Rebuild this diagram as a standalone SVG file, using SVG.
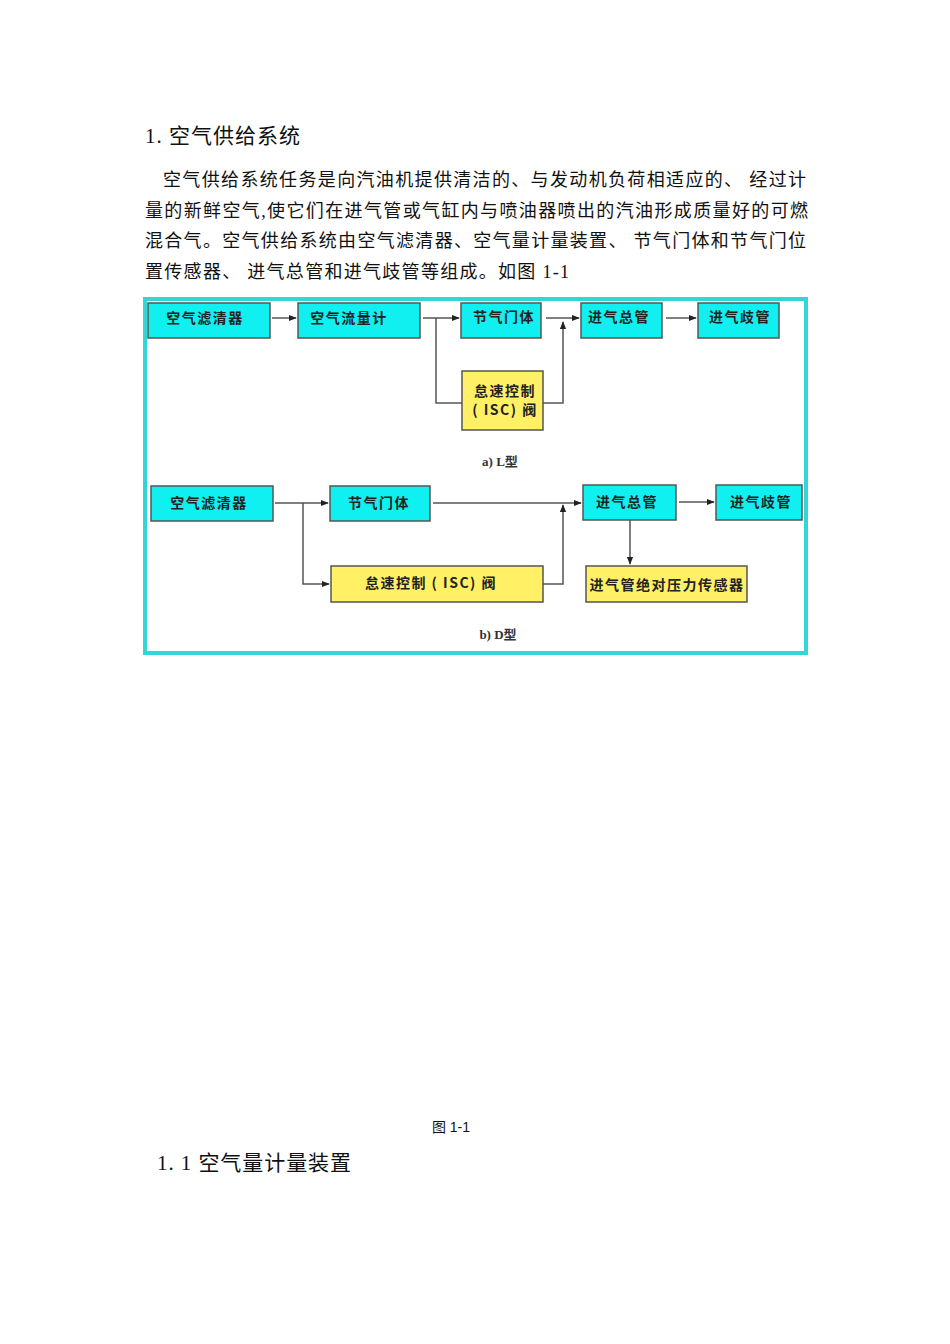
<svg xmlns="http://www.w3.org/2000/svg" width="950" height="1344" viewBox="0 0 950 1344">
<defs>
<style>
.doc{font-family:"Liberation Serif","Noto Sans CJK SC",serif;fill:#111}
.h{font-size:21px}
.p{font-size:18px}
.box{stroke:#555;stroke-width:1.5}
.c{fill:#11F0F0}
.y{fill:#FFF066}
.t{font-family:"Noto Sans CJK SC","Liberation Serif",serif;font-size:14px;font-weight:bold;fill:#222;text-anchor:middle;letter-spacing:1.5px}
.lab{font-family:"Liberation Serif","Noto Sans CJK SC",serif;font-size:13px;font-weight:bold;fill:#333;text-anchor:middle}
.ln{fill:none;stroke:#555;stroke-width:1.5}
</style>
<marker id="ar" viewBox="0 0 10 10" refX="9" refY="5" markerWidth="8" markerHeight="8" markerUnits="userSpaceOnUse" orient="auto">
<path d="M0,1 L10,5 L0,9 z" fill="#222"/>
</marker>
</defs>
<rect x="0" y="0" width="950" height="1344" fill="#fff"/>
<text class="doc h" x="145" y="143" textLength="155" lengthAdjust="spacing">1. 空气供给系统</text>
<text class="doc p" x="163" y="186" textLength="643" lengthAdjust="spacing">空气供给系统任务是向汽油机提供清洁的、与发动机负荷相适应的、 经过计</text>
<text class="doc p" x="145" y="217" textLength="663" lengthAdjust="spacing">量的新鲜空气,使它们在进气管或气缸内与喷油器喷出的汽油形成质量好的可燃</text>
<text class="doc p" x="145" y="247" textLength="661" lengthAdjust="spacing">混合气。空气供给系统由空气滤清器、空气量计量装置、 节气门体和节气门位</text>
<text class="doc p" x="145" y="278" textLength="424" lengthAdjust="spacing">置传感器、 进气总管和进气歧管等组成。如图 1-1</text>
<g id="frame">
<rect x="145" y="299" width="661" height="354" fill="#fff" stroke="#33D6D6" stroke-width="4"/>
</g>
<g id="connectors">
<line class="ln" x1="272" y1="318" x2="296" y2="318" marker-end="url(#ar)"/>
<line class="ln" x1="423" y1="318" x2="459" y2="318" marker-end="url(#ar)"/>
<polyline class="ln" points="436,318 436,403 462,403"/>
<polyline class="ln" points="543,403 563,403 563,322" marker-end="url(#ar)"/>
<line class="ln" x1="546" y1="318" x2="579" y2="318" marker-end="url(#ar)"/>
<line class="ln" x1="666" y1="318" x2="696" y2="318" marker-end="url(#ar)"/>
<line class="ln" x1="275" y1="503" x2="328" y2="503" marker-end="url(#ar)"/>
<polyline class="ln" points="303,503 303,584 329,584" marker-end="url(#ar)"/>
<line class="ln" x1="433" y1="503" x2="581" y2="503" marker-end="url(#ar)"/>
<polyline class="ln" points="543,584 563,584 563,505" marker-end="url(#ar)"/>
<line class="ln" x1="630" y1="520" x2="630" y2="564" marker-end="url(#ar)"/>
<line class="ln" x1="679" y1="502" x2="714" y2="502" marker-end="url(#ar)"/>
</g>
<g id="L-filter"><rect class="box c" x="148" y="303" width="122" height="35"/><text class="t" x="205" y="323">空气滤清器</text></g>
<g id="L-afm"><rect class="box c" x="298" y="303" width="122" height="35"/><text class="t" x="349" y="323">空气流量计</text></g>
<g id="L-throttle"><rect class="box c" x="461" y="303" width="80" height="35"/><text class="t" x="504" y="322">节气门体</text></g>
<g id="L-plenum"><rect class="box c" x="581" y="303" width="81" height="35"/><text class="t" x="619" y="322">进气总管</text></g>
<g id="L-manifold"><rect class="box c" x="698" y="303" width="81" height="35"/><text class="t" x="740" y="322">进气歧管</text></g>
<g id="L-isc"><rect class="box y" x="462" y="371" width="81" height="59"/><text class="t" x="505" y="396">怠速控制</text><text class="t" x="505" y="415">( ISC) 阀</text></g>
<text class="lab" x="500" y="466">a) L型</text>
<g id="D-filter"><rect class="box c" x="151" y="486" width="122" height="35"/><text class="t" x="209" y="508">空气滤清器</text></g>
<g id="D-throttle"><rect class="box c" x="330" y="486" width="100" height="35"/><text class="t" x="379" y="508">节气门体</text></g>
<g id="D-plenum"><rect class="box c" x="583" y="485" width="93" height="35"/><text class="t" x="627" y="507">进气总管</text></g>
<g id="D-manifold"><rect class="box c" x="716" y="485" width="86" height="35"/><text class="t" x="761" y="507">进气歧管</text></g>
<g id="D-isc"><rect class="box y" x="331" y="566" width="212" height="36"/><text class="t" x="431" y="588">怠速控制 ( ISC) 阀</text></g>
<g id="D-map"><rect class="box y" x="586" y="566" width="161" height="36"/><text class="t" x="667" y="590" letter-spacing="0.5">进气管绝对压力传感器</text></g>
<text class="lab" x="498" y="639">b) D型</text>
<text x="451" y="1132" font-family="'Liberation Sans','Noto Sans CJK SC',sans-serif" font-size="14" fill="#111" text-anchor="middle">图 1-1</text>
<text class="doc h" x="157" y="1170" textLength="194" lengthAdjust="spacing">1. 1 空气量计量装置</text>
</svg>
